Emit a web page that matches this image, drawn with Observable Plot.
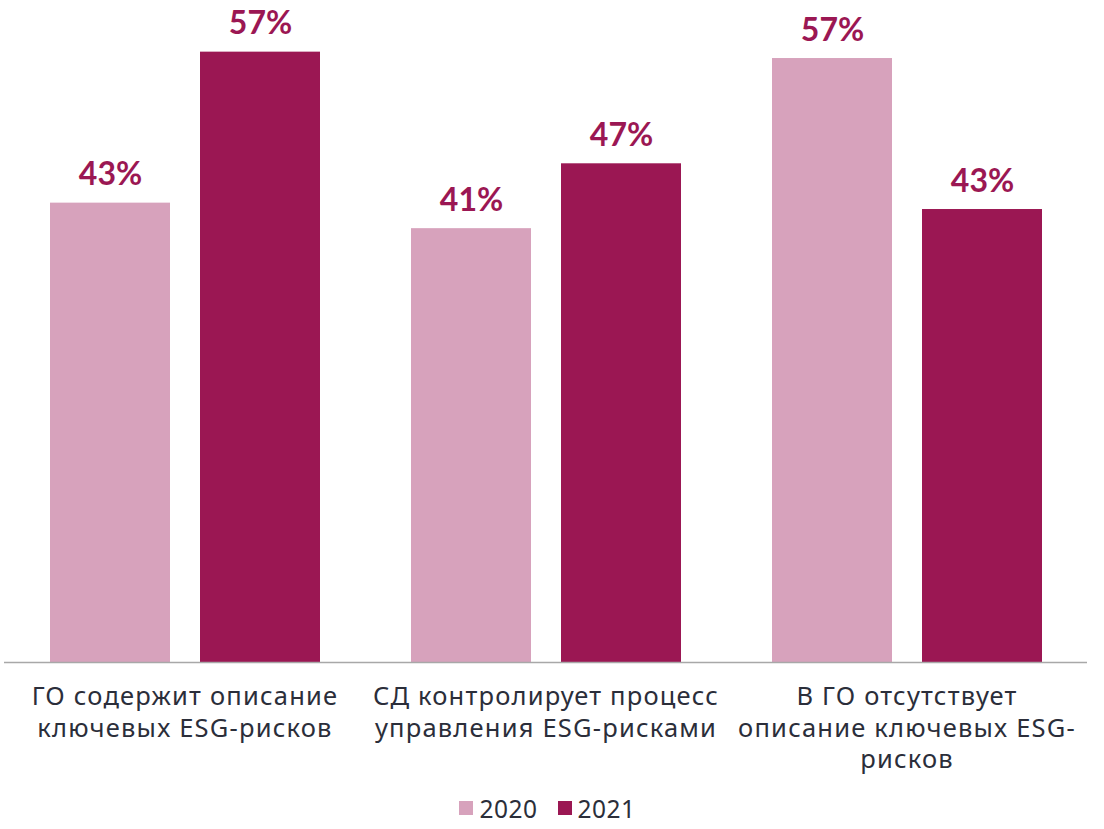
<!DOCTYPE html>
<html>
<head>
<meta charset="utf-8">
<script src="https://cdn.jsdelivr.net/npm/d3@7"></script>
<script src="https://cdn.jsdelivr.net/npm/@observablehq/plot@0.6"></script>
<style>
  html, body { margin: 0; padding: 0; background: #fff; }
  #chart { width: 1104px; }
  #chart g[aria-label="fx-axis tick label"] text { letter-spacing: 1.2px; }
  .legend { display: flex; justify-content: center; align-items: center; height: 36px; margin-left: -9px;
    font-family: "Noto Sans", Arial, sans-serif; font-size: 24.5px; color: #2b2e3a; letter-spacing: 0.5px; }
  .legend .item { display: flex; align-items: center; margin: 0 10px; }
  .legend .sw { width: 14px; height: 14px; margin-right: 6px; }
</style>
</head>
<body>
<div id="chart"></div>
<script>
const categories = [
  "ГО содержит описание\nключевых ESG-рисков",
  "СД контролирует процесс\nуправления ESG-рисками",
  "В ГО отсутствует\nописание ключевых ESG-\nрисков"
];
const years = ["2020", "2021"];
const values2020 = [43.2, 40.8, 56.8];
const values2021 = [57.4, 46.9, 42.6];
const colors = ["#d7a2bc", "#9b1753"];

const data = [];
categories.forEach((c, i) => {
  data.push({category: c, year: years[0], value: values2020[i]});
  data.push({category: c, year: years[1], value: values2021[i]});
});

const plot = Plot.plot({
  width: 1104,
  height: 790,
  marginTop: 24,
  marginBottom: 128,
  marginLeft: 4,
  marginRight: 17,
  style: {fontFamily: "'Noto Sans', Arial, sans-serif", background: "#fff"},
  fx: {domain: categories, padding: 0, label: null},
  x: {domain: years, paddingInner: 0.2, paddingOuter: 0.303, axis: null},
  y: {domain: [0, 60], axis: null},
  color: {domain: years, range: colors},
  marks: [
    Plot.barY(data, {fx: "category", x: "year", y: "value", fill: "year"}),
    Plot.text(data, {fx: "category", x: "year", y: "value", text: d => Math.round(d.value) + "%",
      lineAnchor: "bottom", dy: -18, fill: "#9b1753", fontSize: 32, fontWeight: "bold",
      fontFamily: "Lato, 'Liberation Sans', sans-serif"}),
    Plot.ruleY([0], {stroke: "#a8a8a8", strokeWidth: 1.5}),
    Plot.axisFx({anchor: "bottom", tickSize: 0, tickPadding: 20, fontSize: 25.5, lineHeight: 1.24,
      fill: "#2b2e3a", label: null})
  ]
});
document.getElementById("chart").appendChild(plot);

const legend = document.createElement("div");
legend.className = "legend";
years.forEach((y, i) => {
  const item = document.createElement("div");
  item.className = "item";
  const sw = document.createElement("span");
  sw.className = "sw";
  sw.style.background = colors[i];
  const t = document.createElement("span");
  t.textContent = y;
  item.appendChild(sw);
  item.appendChild(t);
  legend.appendChild(item);
});
document.getElementById("chart").appendChild(legend);
</script>
</body>
</html>
